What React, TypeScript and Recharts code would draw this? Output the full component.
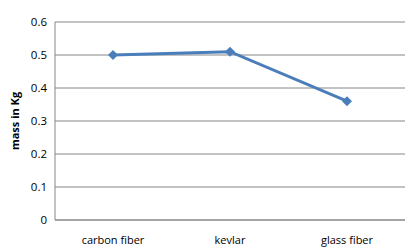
import { LineChart, Line, CartesianGrid, XAxis, YAxis } from "recharts";

const materials = ["carbon fiber", "kevlar", "glass fiber"];
const massKg = [0.5, 0.51, 0.36];
const yTicks = [0, 0.1, 0.2, 0.3, 0.4, 0.5, 0.6];

const data = materials.map((name, i) => ({ name, mass: massKg[i] }));

const font = "'Open Sans', sans-serif";

export default function App() {
  return (
    <div style={{ position: "absolute", left: 0, top: 0, width: 418, height: 249, background: "#fff" }}>
      <LineChart
        width={418}
        height={249}
        data={data}
        margin={{ top: 22, right: 13, left: 0, bottom: 0 }}
      >
        <CartesianGrid vertical={false} stroke="#868686" strokeWidth={1} />
        <XAxis
          dataKey="name"
          height={29}
          padding={{ left: 58, right: 58 }}
          axisLine={{ stroke: "#868686" }}
          tickLine={false}
          tickMargin={10}
          tick={{ fill: "#000", fontSize: 11, fontFamily: font }}
        />
        <YAxis
          width={55}
          domain={[0, 0.6]}
          ticks={yTicks}
          tickFormatter={(v: number) => String(v)}
          axisLine={{ stroke: "#868686" }}
          tickLine={false}
          tick={{ fill: "#000", fontSize: 11.5, fontFamily: font }}
          label={{
            value: "mass in Kg",
            angle: -90,
            position: "center",
            dx: -12,
            style: { fontSize: 11, fontWeight: "bold", fill: "#000", fontFamily: font },
          }}
        />
        <Line
          type="linear"
          dataKey="mass"
          stroke="#4a7ebb"
          strokeWidth={3}
          isAnimationActive={false}
          dot={(p: any) => (
            <path
              key={p.index}
              d={`M${p.cx},${p.cy - 5}L${p.cx + 5},${p.cy}L${p.cx},${p.cy + 5}L${p.cx - 5},${p.cy}Z`}
              fill="#4a7ebb"
            />
          )}
        />
      </LineChart>
    </div>
  );
}
